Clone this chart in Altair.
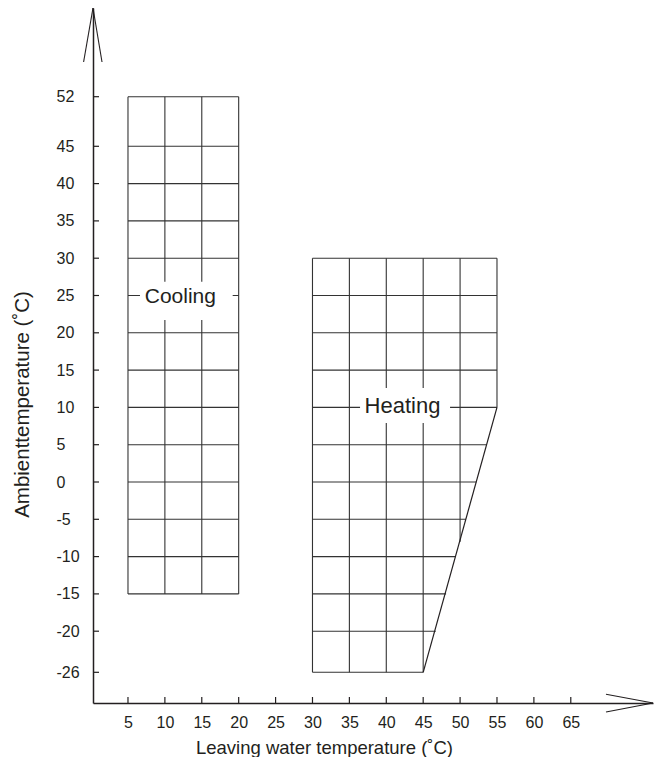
import altair as alt
import pandas as pd

# ---- data ----
x_ticks = [5, 10, 15, 20, 25, 30, 35, 40, 45, 50, 55, 60, 65]
y_ticks = [52, 45, 40, 35, 30, 25, 20, 15, 10, 5, 0, -5, -10, -15, -20, -26]

# cooling envelope grid
cool_cols = [5, 10, 15, 20]
cool_rows = [52, 45, 40, 35, 30, 25, 20, 15, 10, 5, 0, -5, -10, -15]
cool_x_min, cool_x_max = 5, 20
cool_y_min, cool_y_max = -15, 52

# heating envelope grid
heat_cols = [30, 35, 40, 45, 50, 55]
heat_col_bottom = [-26, -26, -26, -26, -8, 10]
heat_col_top = 30
heat_rows = [30, 25, 20, 15, 10, 5, 0, -5, -10, -15, -20, -26]
heat_row_right = [55, 55, 55, 55, 55, 53.6, 52.2, 50.8, 49.4, 48.1, 46.7, 45]
heat_x_min = 30
heat_edge_x = [55, 45]
heat_edge_y = [10, -26]

labels = ["Cooling", "Heating"]
label_x = [12.5, 42]
label_y = [25, 10]

# ---- styling ----
FONT = "Liberation Sans, Arial, Helvetica, sans-serif"
INK = "#231f20"
GRID = "#333333"
W, H = 560, 695

x_scale = alt.Scale(domain=[0.26, 76.14], nice=False, zero=False)
y_scale = alt.Scale(domain=[-30.48, -20, 45, 52, 64.52],
                    range=[H, 623.2, 138.3, 88.7, 0], nice=False, zero=False)

x_axis = alt.Axis(values=x_ticks, ticks=False, tickSize=0, grid=False,
                  labelPadding=11, labelFontSize=16, labelFont=FONT, labelColor=INK,
                  labelFlush=False, labelOverlap=False,
                  domainColor=INK, domainWidth=1.5,
                  title="Leaving water temperature (˚C)", titleFont=FONT,
                  titleFontSize=18.5, titleFontWeight="normal", titleColor=INK,
                  titleX=231, titleY=50, titleAlign="center", titleBaseline="alphabetic")
y_axis = alt.Axis(values=y_ticks, ticks=False, tickSize=0, grid=False,
                  labelPadding=37, labelAlign="left", labelBaseline="middle",
                  labelExpr="datum.value < 0 ? '-' + abs(datum.value) : '' + datum.value",
                  labelFontSize=16, labelFont=FONT, labelColor=INK,
                  labelFlush=False, labelOverlap=False,
                  domainColor=INK, domainWidth=1.5,
                  title="Ambienttemperature (˚C)", titleFont=FONT,
                  titleFontSize=20.5, titleFontWeight="normal", titleColor=INK,
                  titleAngle=270, titleX=-71, titleY=396,
                  titleAlign="center", titleBaseline="middle")


def X(f):
    return alt.X(f, type="quantitative", scale=x_scale, axis=x_axis)


def Y(f):
    return alt.Y(f, type="quantitative", scale=y_scale, axis=y_axis)


# ---- data frames ----
cool_v = pd.DataFrame({"x": cool_cols, "y1": cool_y_min, "y2": cool_y_max})
cool_h = pd.DataFrame({"y": cool_rows, "x1": cool_x_min, "x2": cool_x_max})
heat_v = pd.DataFrame({"x": heat_cols, "y1": heat_col_bottom, "y2": heat_col_top})
heat_h = pd.DataFrame({"y": heat_rows, "x1": heat_x_min, "x2": heat_row_right})
heat_e = pd.DataFrame({"x1": [heat_edge_x[0]], "x2": [heat_edge_x[1]],
                       "y1": [heat_edge_y[0]], "y2": [heat_edge_y[1]]})
lab = pd.DataFrame({"label": labels, "x": label_x, "y": label_y})
xt = pd.DataFrame({"v": x_ticks})
yt = pd.DataFrame({"v": y_ticks})
one = pd.DataFrame({"a": [0]})

rule = dict(color=GRID, strokeWidth=1.1)

l_cool_v = alt.Chart(cool_v).mark_rule(**rule).encode(x=X("x"), y=Y("y1"), y2="y2")
l_cool_h = alt.Chart(cool_h).mark_rule(**rule).encode(y=Y("y"), x=X("x1"), x2="x2")
l_heat_v = alt.Chart(heat_v).mark_rule(**rule).encode(x=X("x"), y=Y("y1"), y2="y2")
l_heat_h = alt.Chart(heat_h).mark_rule(**rule).encode(y=Y("y"), x=X("x1"), x2="x2")
l_heat_e = alt.Chart(heat_e).mark_rule(color=INK, strokeWidth=1.2).encode(
    x=X("x1"), x2="x2", y=Y("y1"), y2="y2")

box_cool = alt.Chart(lab).transform_filter(alt.datum.label == "Cooling").mark_point(
    shape="M-0.867,-0.276L0.987,-0.276L0.987,0.49L-0.867,0.49Z",
    filled=True, color="white", opacity=1, size=10000, strokeWidth=0
).encode(x=X("x"), y=Y("y"))
box_heat = alt.Chart(lab).transform_filter(alt.datum.label == "Heating").mark_point(
    shape="M-0.82,-0.388L0.98,-0.388L0.98,0.312L-0.82,0.312Z",
    filled=True, color="white", opacity=1, size=10000, strokeWidth=0
).encode(x=X("x"), y=Y("y"))

txt_cool = alt.Chart(lab).transform_filter(alt.datum.label == "Cooling").mark_text(
    font=FONT, fontSize=21, color=INK, align="center", baseline="alphabetic",
    dx=-3, dy=7.5
).encode(x=X("x"), y=Y("y"), text="label:N")
txt_heat = alt.Chart(lab).transform_filter(alt.datum.label == "Heating").mark_text(
    font=FONT, fontSize=22, color=INK, align="center", baseline="alphabetic",
    dx=1.5, dy=5.3
).encode(x=X("x"), y=Y("y"), text="label:N")

# inward axis ticks
l_xt = alt.Chart(xt).mark_rule(color=INK, strokeWidth=1.2).encode(
    x=X("v"), y=alt.value(H), y2=alt.value(H - 6))
l_yt = alt.Chart(yt).mark_rule(color=INK, strokeWidth=1.2).encode(
    y=Y("v"), x=alt.value(0), x2=alt.value(6))

# axis arrows
arr = dict(color=INK, strokeWidth=1.1)
a1 = alt.Chart(one).mark_rule(**arr).encode(x=alt.value(0), y=alt.value(0),
                                             x2=alt.value(-9.4), y2=alt.value(54))
a2 = alt.Chart(one).mark_rule(**arr).encode(x=alt.value(0), y=alt.value(0),
                                             x2=alt.value(9), y2=alt.value(54))
a3 = alt.Chart(one).mark_rule(**arr).encode(x=alt.value(W), y=alt.value(H),
                                             x2=alt.value(W - 47), y2=alt.value(H - 8.7))
a4 = alt.Chart(one).mark_rule(**arr).encode(x=alt.value(W), y=alt.value(H),
                                             x2=alt.value(W - 47), y2=alt.value(H + 9))

chart = alt.layer(
    l_cool_v, l_cool_h, l_heat_v, l_heat_h, l_heat_e,
    box_cool, box_heat, txt_cool, txt_heat,
    l_xt, l_yt, a1, a2, a3, a4
).properties(
    width=W, height=H,
    padding={"left": 85, "top": 0, "right": 1, "bottom": 54},
    autosize=alt.AutoSizeParams(type="none"),
    background="white",
).configure_view(stroke=None)

chart.save("out.html", embed_options={"renderer": "svg", "actions": False})
